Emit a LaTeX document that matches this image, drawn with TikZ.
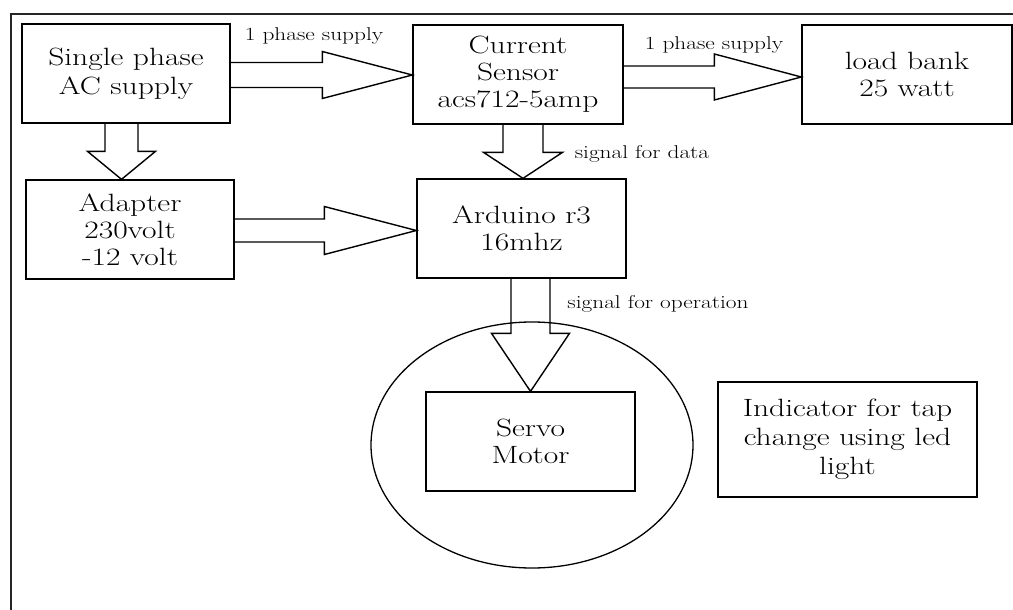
\documentclass[tikz,border=0pt]{standalone}
\usepackage{fontspec}
\usetikzlibrary{calc,shapes.geometric}
\newcommand\sx[1]{\scalebox{1.26}[1]{#1}}
\newcommand\harr[5]{\draw[arr] let \p1=#1, \p2=#2 in
  (\x1,\y1+#3) -- (\x2-#4,\y1+#3) -- (\x2-#4,\y1+#5) -- (\x2,\y1)
  -- (\x2-#4,\y1-#5) -- (\x2-#4,\y1-#3) -- (\x1,\y1-#3);}
\newcommand\varr[5]{\draw[arr] let \p1=#1, \p2=#2 in
  (\x1+#3,\y1) -- (\x1+#3,\y2+#4) -- (\x1+#5,\y2+#4) -- (\x1,\y2)
  -- (\x1-#5,\y2+#4) -- (\x1-#3,\y2+#4) -- (\x1-#3,\y1);}
\tikzset{
  blk/.style={draw, line width=1.3pt, inner sep=0pt, align=center,
    font=\fontsize{25}{28}\selectfont},
  arr/.style={line width=1.4pt, line join=miter},
  lbl/.style={inner sep=0pt, anchor=base, font=\fontsize{18.5}{20}\selectfont},
  frame/.style={line width=1.8pt, draw=black!85}
}
\begin{document}
\begin{tikzpicture}[x=1pt,y=-1pt]
\useasboundingbox (0,0) rectangle (1013,610);
\draw[frame] (11,610) -- (11,14) -- (1013,14);

\node[blk, minimum width=208, minimum height=99] (src) at (126,73.5)
  {\sx{Single phase}\\[1pt]\sx{AC supply}};
\node[blk, minimum width=210, minimum height=99] (cur) at (518,74.5)
  {\sx{Current}\\[-1pt]\sx{Sensor}\\[-1pt]\sx{acs712-5amp}};
\node[blk, minimum width=210, minimum height=99] (load) at (907,74.5)
  {\sx{load bank}\\[-1pt]\sx{25 watt}};
\node[blk, minimum width=208, minimum height=99] (adp) at (130,229.5)
  {\sx{Adapter}\\[-1pt]\sx{230volt}\\[-1pt]\sx{-12 volt}};
\node[blk, minimum width=209, minimum height=99] (ard) at (521.5,228.5)
  {\sx{Arduino r3}\\[-1pt]\sx{16mhz}};
\node[draw, line width=1.3pt, ellipse, inner sep=0pt, minimum width=322, minimum height=246] (ell) at (532,445) {};
\node[blk, minimum width=209, minimum height=99] (srv) at (530.5,441.5)
  {\sx{Servo}\\[-1pt]\sx{Motor}};
\node[blk, minimum width=259, minimum height=115] (ind) at (847.5,439.5)
  {\sx{Indicator for tap}\\[1pt]\sx{change using led}\\[1pt]\sx{light}};

% block arrows
\coordinate (a1s) at ($(src.east)+(0,1.5)$);
\harr{(a1s)}{(a1s -| cur.west)}{12.5pt}{90pt}{23.5pt}
\coordinate (a2s) at ($(cur.east)+(0,2.5)$);
\harr{(a2s)}{(a2s -| load.west)}{11pt}{87pt}{23pt}
\coordinate (a3s) at ($(adp.east)+(0,1)$);
\harr{(a3s)}{(a3s -| ard.west)}{11.5pt}{92pt}{24pt}
\coordinate (d1s) at ($(src.south)+(-4.5,0)$);
\varr{(d1s)}{(d1s |- adp.north)}{16.5pt}{28pt}{34pt}
\coordinate (d2s) at ($(cur.south)+(5,0)$);
\varr{(d2s)}{(d2s |- ard.north)}{20pt}{26pt}{39.5pt}
\coordinate (d3s) at (ard.south -| srv.north);
\varr{(d3s)}{(srv.north)}{19.5pt}{58pt}{39pt}

% labels
\node[lbl] (l1) at (314,41) {\sx{1 phase supply}};
\node[lbl] (l2) at (714,50) {\sx{1 phase supply}};
\node[lbl] (l3) at (642,158) {\sx{signal for data}};
\node[lbl] (l4) at (658,308) {\sx{signal for operation}};
\end{tikzpicture}
\end{document}
